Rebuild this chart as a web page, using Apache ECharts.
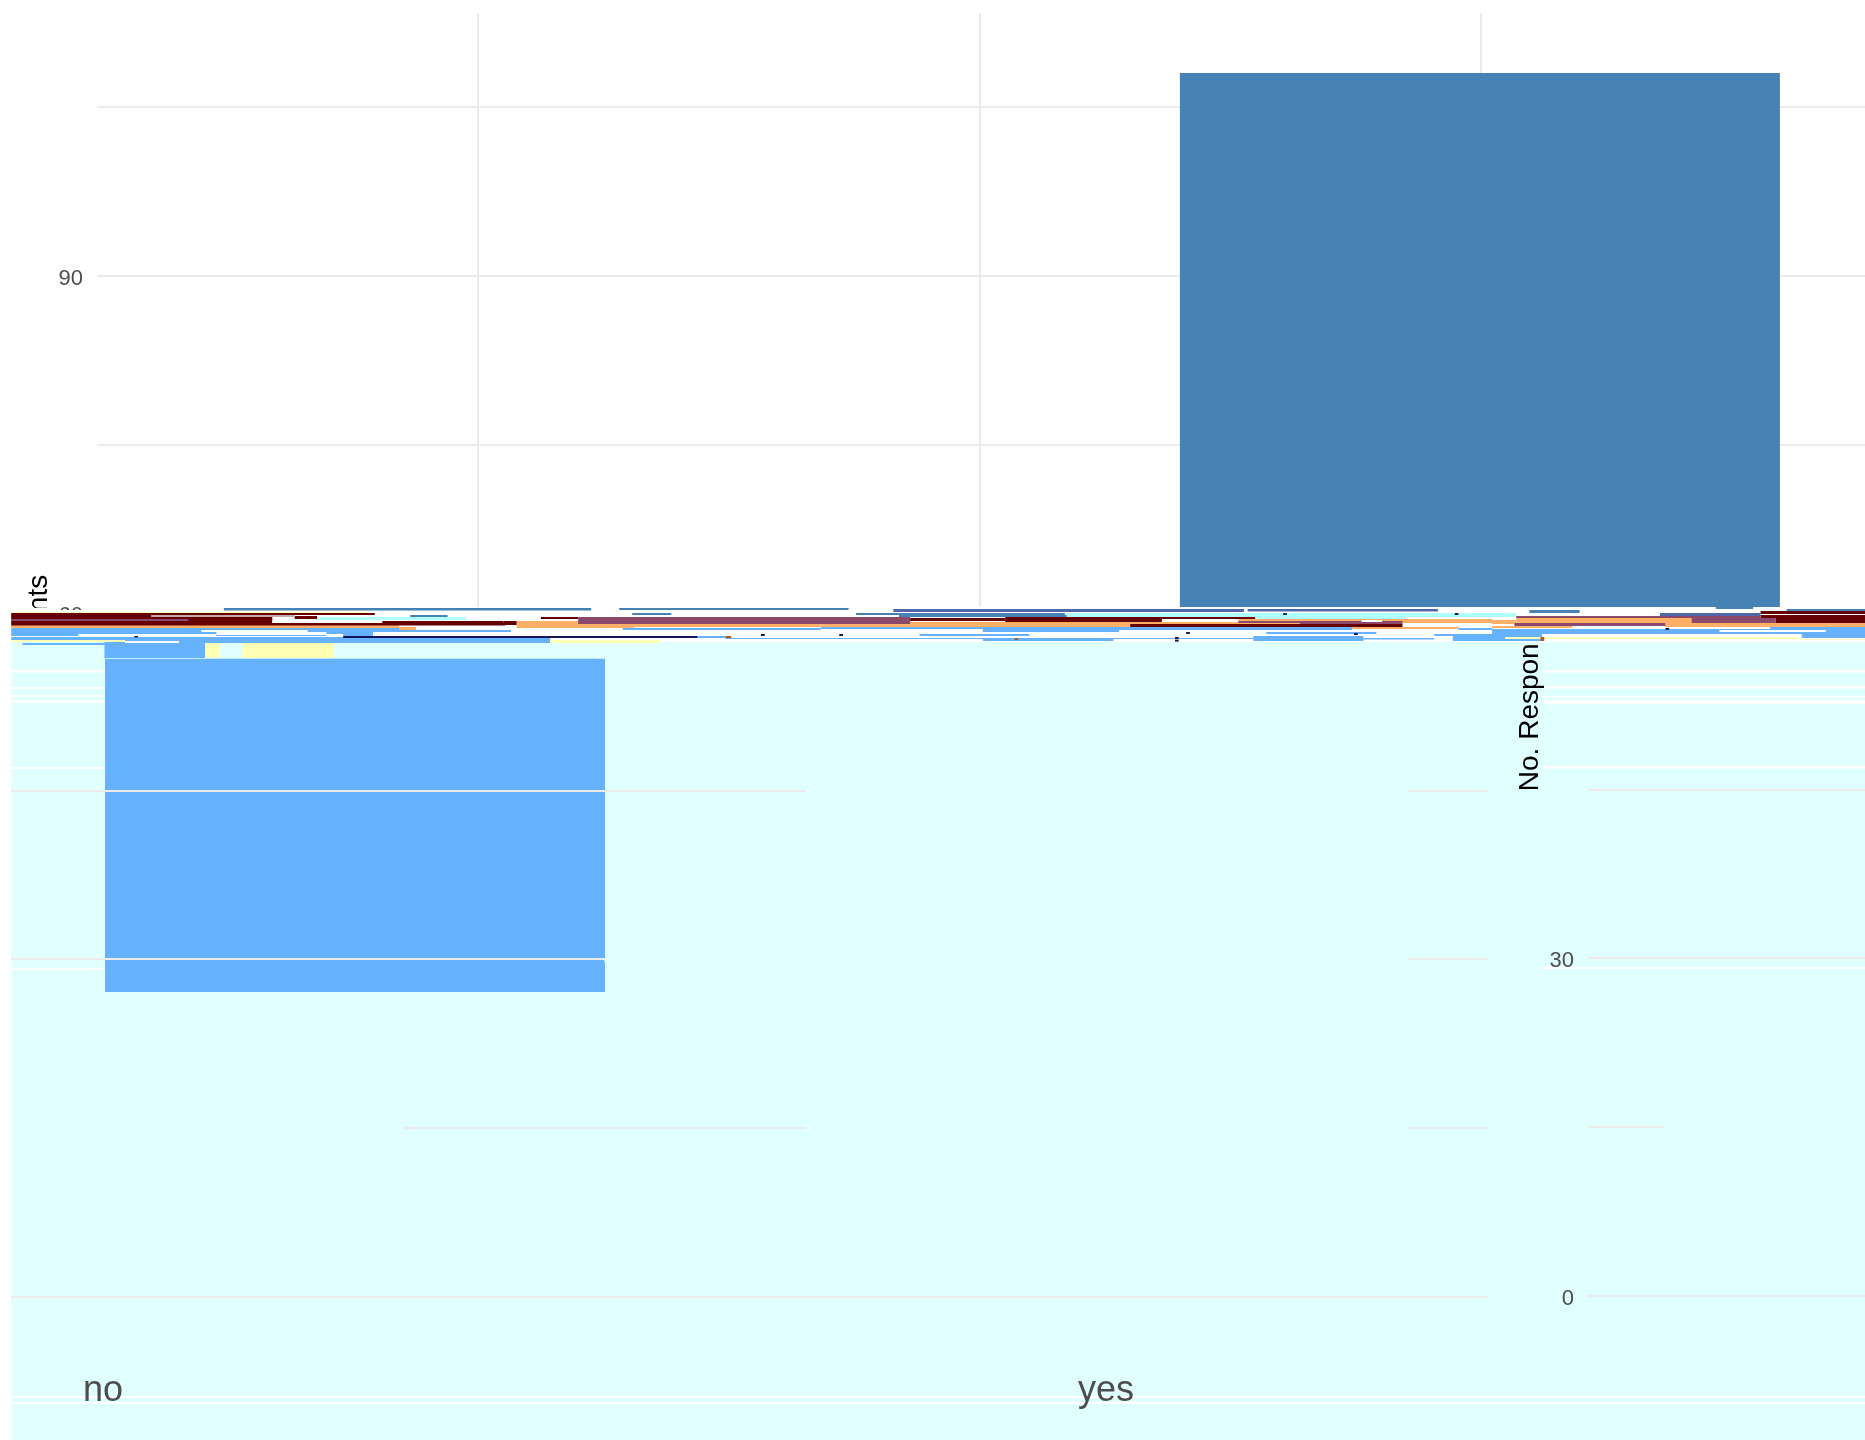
<!DOCTYPE html>
<html>
<head>
<meta charset="utf-8">
<title>No. Respondents</title>
<script src="https://cdn.jsdelivr.net/npm/echarts@6/dist/echarts.min.js"></script>
<style>
html, body { margin: 0; padding: 0; background: #fff; }
#chart { width: 1865px; height: 1440px; }
</style>
</head>
<body>
<div id="chart"></div>
<script>
var categories = ['no', 'yes'];
var axisName = 'No. Respondents';

// the two bars, in respondents
var yesValue = 108;
var noLow = 27.1;
var noHigh = 56.7;

// tick labels which survive in the picture
var topTicks = [90, 60];
var bottomTicks = [30, 0];

// the corrupted rows across the middle: [from %, to % of the width, first row, last row]
var steelStrips = [
	[12.0, 31.7, 1, 2.2], [33.2, 45.5, 1, 2], [33.9, 36.0, 3.5, 4.5], [22.0, 24.0, 4.5, 5.5],
	[45.9, 57.1, 3.5, 4.5], [48.2, 57.2, 4.5, 5.5], [82.0, 84.7, 2, 3.5], [95.8, 100, 1.5, 2.5],
	[92, 94, 0.5, 1.5]
];
var slateStrips = [[47.9, 66.7, 1.5, 3], [66.9, 77.1, 1.5, 2.7], [89.0, 94.4, 3.5, 5]];
var cyanStrips = [[17, 25, 5.5, 7], [57.2, 81.3, 3.5, 5.5], [67.1, 75.4, 5.5, 6.5]];
var orangeStrips = [
	[0.6, 21.4, 9.5, 11], [21.4, 22.3, 10.5, 12], [27.7, 34, 7.5, 11], [32.9, 44, 9, 10.5],
	[44, 60.6, 8, 10.5], [66.4, 80, 6.5, 8.5], [60.6, 69.8, 8, 9], [69.8, 78.2, 10.5, 11.5],
	[81.3, 90.7, 6, 8.5], [89.3, 100, 8.5, 10.5], [80, 84.3, 10, 11], [80, 81.3, 7, 9]
];
var blueStrips = [
	[0.6, 20, 11, 15], [20, 21.4, 11, 12], [20, 27.4, 12, 13], [6.7, 29.5, 15.5, 18.5],
	[0.6, 6.7, 15.5, 17], [1.2, 9.6, 18.5, 19.5], [5.6, 11, 17.5, 26], [33.4, 44, 11, 12],
	[44, 52.7, 10.5, 11.5], [52.7, 60, 10.5, 13], [60, 72.5, 10.5, 12], [78.2, 80, 11, 12],
	[94.9, 100, 10.5, 15], [80, 94.9, 11.5, 14], [80, 82.7, 13, 17.5], [87.4, 92.2, 13, 15],
	[96.6, 100, 15, 16], [49.3, 55.2, 14, 15], [67.9, 73.8, 13, 14], [76.9, 77.9, 14, 15],
	[77.9, 80, 14, 17.5], [37.4, 38.9, 15, 16], [38.9, 67.2, 16, 16.5], [52.7, 59.7, 16.5, 17.5],
	[67.2, 73.1, 15, 17.5], [73.1, 76.9, 16, 16.7]
];
var darkRedStrips = [
	[0.6, 20.1, 3.5, 4.5], [0.6, 14.6, 4.5, 8.5], [0.6, 27.1, 8.5, 9.7], [15.8, 17, 5, 6.5],
	[20.5, 27, 7.5, 8.5], [27, 27.7, 7.5, 9.5], [29, 31, 5.5, 6.5], [48.8, 53.9, 6, 7.5],
	[53.9, 62.3, 5.5, 8], [62.3, 67.3, 5.5, 6.5], [60.6, 75.2, 9, 10.5], [94.4, 100, 2.5, 4],
	[94.4, 100, 4.5, 6], [95.2, 100, 6, 8.5]
];
var rosyStrips = [
	[31, 48.8, 5.5, 9], [69.7, 75.2, 7.5, 9], [66.4, 69.7, 7.5, 8.5], [81.3, 94.4, 5, 6],
	[90.7, 95.2, 6, 8.5], [81.2, 89.3, 8.5, 10], [0.6, 10.1, 6.5, 7.5]
];
var paleRoseStrips = [[8.1, 15.8, 4.5, 5.5]];
var whiteStrips = [
	[4.2, 11.6, 14, 15.5], [11.6, 17.5, 13, 14.5], [17.5, 18.4, 14, 15.5], [0.6, 4.2, 15, 15.5],
	[10.8, 16.5, 12, 13], [14.6, 20, 7.5, 8.5], [6.7, 9.6, 17.5, 18.5], [92.2, 97.9, 12, 13],
	[84.4, 94.9, 10.5, 11.5], [86.3, 96.6, 14, 17], [82.7, 86.3, 14, 17], [73, 74.1, 7, 8]
];
var yellowStrips = [
	[0.6, 19.8, 3, 3.5], [0.6, 6.7, 17, 18], [29.5, 35.4, 17, 18.5], [11, 11.8, 18.5, 26],
	[13, 17.9, 18.5, 26], [80.7, 82.7, 15.5, 16.5], [82.8, 96.6, 15.5, 16.5], [96.6, 100, 16.5, 17]
];
var navyStrips = [
	[18.4, 37.4, 15, 16], [40.8, 41, 14, 15], [45, 45.2, 14, 15], [63, 63.2, 15.5, 16.5],
	[63, 63.2, 16.8, 17.8], [63.6, 63.8, 13, 14], [72.6, 72.8, 13.5, 14.5], [68.8, 69, 3.5, 4.5],
	[78, 78.2, 3.5, 4.5], [7.2, 7.4, 15, 15.7], [89.3, 89.5, 11, 12]
];
var rustDots = [[54.4, 54.6, 16, 17], [82.6, 82.8, 15.5, 17.5], [38.9, 39.2, 15, 16]];

// white paper behind the rows, the cyan panel and the white scratches across it
var paperStrips = [[0, 3, 1, 18], [3, 4.6, 2, 18], [4.6, 100, 0.5, 18]];
var panelStrips = [[0.6, 100, 17.5, 417]];
var scratchStrips = [
	[0.6, 5.6, 32, 33.2], [0.6, 5.6, 40.5, 41.5], [0.6, 5.6, 44.5, 45.5], [0.6, 5.6, 47, 48.5],
	[0.6, 5.6, 80.5, 81.5], [0.6, 5.6, 181, 181.8],
	[82.7, 100, 32, 33.2], [82.7, 100, 40, 41.2], [82.7, 100, 45, 45.8], [82.7, 100, 47, 49],
	[82.7, 100, 80, 81.2], [82.7, 100, 180.5, 181.5],
	[0.6, 100, 395, 396], [0.6, 100, 398, 399]
];
// places where the grid lines have dropped out
var gapStrips = [
	[43.2, 75.5, 92, 94], [32.4, 75.5, 176, 178], [0.6, 21.7, 260, 262],
	[43.2, 75.5, 260, 262], [89.2, 100, 259.5, 261.5]
];

var grey = '#4d4d4d';
var lineGrey = '#ebebeb';
var font = '"Liberation Sans", Arial, sans-serif';

function drawStrip(params, api) {
	var a = api.coord([api.value(0), api.value(2)]);
	var b = api.coord([api.value(1), api.value(3)]);
	return {
		type: 'rect',
		shape: { x: a[0], y: a[1], width: b[0] - a[0], height: b[1] - a[1] },
		style: { fill: api.visual('color') }
	};
}

function stripSeries(data, color, z) {
	return {
		type: 'custom',
		xAxisIndex: 6,
		yAxisIndex: 6,
		z: z,
		silent: true,
		clip: false,
		animation: false,
		itemStyle: { color: color },
		encode: { x: [0, 1], y: [2, 3] },
		renderItem: drawStrip,
		data: data
	};
}

function hiddenValue(index, min, max, inverse) {
	return { type: 'value', gridIndex: index, min: min, max: max, inverse: !!inverse, show: false };
}

// the labels sit a little under their lines in the original
var tickRich = { t: { fontSize: 22, color: grey, fontFamily: font, padding: [6, 0, 0, 0] } };

function tickLabel(kept) {
	return function(v) {
		return kept.indexOf(v) > -1 ? '{t|' + v + '}' : '';
	};
}

var myChart = echarts.init(document.getElementById('chart'));

var option = {
	backgroundColor: '#fff',
	animation: false,
	textStyle: { fontFamily: font },
	grid: [
		{ outerBoundsMode: 'none', left: -23.5, top: 13, width: 2005.5, height: 594 },   // vertical lines of the top panel
		{ outerBoundsMode: 'none', left: 97, top: -62, width: 1768, height: 675 },       // top panel
		{ outerBoundsMode: 'none', left: 11, top: 644, width: 1477, height: 653 },       // bottom panel, left side
		{ outerBoundsMode: 'none', left: 1588, top: 643, width: 277, height: 653 },      // bottom panel, right side
		{ outerBoundsMode: 'none', left: -146.5, top: 644, width: 2006, height: 653 },   // the "no" bar
		{ outerBoundsMode: 'none', left: -398.5, top: 1299, width: 2006, height: 74 },   // category labels
		{ outerBoundsMode: 'none', left: 0, top: 606, width: 1865, height: 834 }         // corrupted rows
	],
	xAxis: [
		{
			type: 'value', gridIndex: 0, min: 0, max: 4, interval: 1,
			axisLine: { show: false }, axisTick: { show: false }, axisLabel: { show: false },
			splitLine: { show: true, lineStyle: { color: lineGrey, width: 2 } }
		},
		hiddenValue(1, 0.242, 3.768),
		hiddenValue(2, 0, 1),
		hiddenValue(3, 0, 1),
		{ type: 'category', gridIndex: 4, data: categories, show: false },
		{
			type: 'category', gridIndex: 5, data: categories, z: 8,
			axisLine: { show: false }, axisTick: { show: false },
			axisLabel: { fontSize: 36, color: grey, fontFamily: font, margin: 0, interval: 0 }
		},
		hiddenValue(6, 0, 100)
	],
	yAxis: [
		hiddenValue(0, 0, 1),
		{
			type: 'value', gridIndex: 1, min: 60, max: 120, interval: 15,
			axisLine: { show: false }, axisTick: { show: false },
			axisLabel: { margin: 14, rich: tickRich, formatter: tickLabel(topTicks) },
			splitLine: { show: true, lineStyle: { color: lineGrey, width: 2 } }
		},
		{
			type: 'value', gridIndex: 2, min: 0, max: 58, interval: 15, z: 6,
			axisLine: { show: false }, axisTick: { show: false }, axisLabel: { show: false },
			splitLine: { show: true, showMaxLine: false, lineStyle: { color: lineGrey, width: 2 } }
		},
		{
			type: 'value', gridIndex: 3, min: 0, max: 58, interval: 15, z: 6,
			axisLine: { show: false }, axisTick: { show: false },
			axisLabel: { margin: 14, showMaxLabel: false, rich: tickRich, formatter: tickLabel(bottomTicks) },
			splitLine: { show: true, showMaxLine: false, lineStyle: { color: lineGrey, width: 2 } }
		},
		hiddenValue(4, 0, 58),
		hiddenValue(5, 0, 1),
		hiddenValue(6, 0, 417, true)
	],
	graphic: [
		{
			type: 'text', x: 39, y: 683, rotation: Math.PI / 2, z: 1,
			style: { text: axisName, font: '28px ' + font, fill: '#000', align: 'center', verticalAlign: 'middle' }
		},
		{
			type: 'text', x: 1530, y: 683, rotation: Math.PI / 2, z: 4,
			style: { text: axisName, font: '28px ' + font, fill: '#000', align: 'center', verticalAlign: 'middle' }
		}
	],
	series: [
		{
			type: 'bar', xAxisIndex: 1, yAxisIndex: 1, barWidth: 600, z: 4.5, silent: true,
			itemStyle: { color: '#4682B4' },
			data: [[3, yesValue]]
		},
		stripSeries(panelStrips, '#E0FFFF', 3),
		stripSeries(scratchStrips, '#fff', 3),
		stripSeries(paperStrips, '#fff', 5),
		stripSeries(steelStrips, '#4682B4', 5),
		stripSeries(slateStrips, '#5068A8', 5),
		stripSeries(cyanStrips, '#B0FFFF', 5),
		stripSeries(orangeStrips, '#FFB066', 5),
		stripSeries(blueStrips, '#66B2FF', 5),
		stripSeries(darkRedStrips, '#660000', 5),
		stripSeries(rosyStrips, '#8B4A6B', 5),
		stripSeries(paleRoseStrips, '#C9A8A8', 5),
		stripSeries(whiteStrips, '#fff', 5),
		stripSeries(yellowStrips, '#FFFFB3', 5),
		stripSeries(navyStrips, '#14145A', 5),
		stripSeries(rustDots, '#B5561C', 5),
		{
			type: 'bar', xAxisIndex: 4, yAxisIndex: 4, stack: 'no', barWidth: 500, z: 5, silent: true,
			itemStyle: { color: 'transparent' },
			data: [noLow, null]
		},
		{
			type: 'bar', xAxisIndex: 4, yAxisIndex: 4, stack: 'no', barWidth: 500, z: 5, silent: true,
			itemStyle: { color: '#66B2FF' },
			data: [noHigh - noLow, null]
		},
		stripSeries(gapStrips, '#E0FFFF', 7)
	]
};

myChart.setOption(option);
</script>
</body>
</html>
